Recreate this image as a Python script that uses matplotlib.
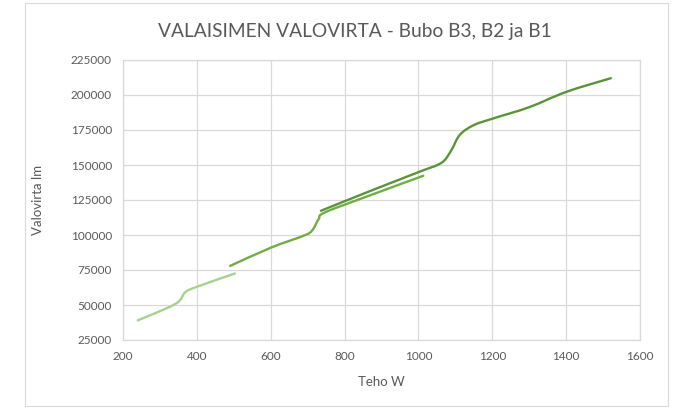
import numpy as np
import matplotlib
matplotlib.use("Agg")
import matplotlib.pyplot as plt
from matplotlib.path import Path
from matplotlib.patches import PathPatch, Rectangle

# ---- data ----
b1_w = [240, 342, 368, 400, 503]
b1_lm = [39000, 50800, 59000, 63000, 72500]

b2_w = [490, 600, 692, 713, 730, 748, 880, 1013]
b2_lm = [77900, 90900, 99800, 103500, 111500, 116300, 129400, 142300]

b3_w = [736, 870, 1004, 1062, 1088, 1112, 1150, 1203, 1300, 1401, 1521]
b3_lm = [117300, 131500, 145300, 151500, 160000, 171500, 178500, 183300, 191300, 202300, 212000]

x_ticks = [200, 400, 600, 800, 1000, 1200, 1400, 1600]
y_ticks = [25000, 50000, 75000, 100000, 125000, 150000, 175000, 200000, 225000]

title = "VALAISIMEN VALOVIRTA - Bubo B3, B2 ja B1"
x_label = "Teho W"
y_label = "Valovirta lm"

colors = {"B1": "#A9D18E", "B2": "#70AD47", "B3": "#5A9439"}

plt.rcParams['font.family'] = ['Lato', 'DejaVu Sans']

fig = plt.figure(figsize=(6.79, 4.08), dpi=100)
ax = fig.add_axes([123 / 679, 1 - 340 / 408, (640 - 123) / 679, (340 - 60) / 408])

# chart border
fig.patches.append(Rectangle((25 / 679, 1 - 406 / 408), (668 - 25) / 679, (406 - 3) / 408,
                             transform=fig.transFigure, fill=False,
                             edgecolor="#D9D9D9", linewidth=0.8))


def smooth_path(xs, ys, tension=1 / 6):
    """Excel-like smoothed line: cubic Bezier through the data points."""
    xs = np.asarray(xs, float)
    ys = np.asarray(ys, float)
    sx = 1400.0
    sy = 200000.0 * (280 / 517)
    px, py = xs / sx, ys / sy
    n = len(xs)
    verts = [(xs[0], ys[0])]
    codes = [Path.MOVETO]
    for i in range(n - 1):
        p0 = max(i - 1, 0)
        p3 = min(i + 2, n - 1)
        c1x = px[i] + (px[i + 1] - px[p0]) * tension
        c1y = py[i] + (py[i + 1] - py[p0]) * tension
        c2x = px[i + 1] - (px[p3] - px[i]) * tension
        c2y = py[i + 1] - (py[p3] - py[i]) * tension
        verts += [(c1x * sx, c1y * sy), (c2x * sx, c2y * sy), (xs[i + 1], ys[i + 1])]
        codes += [Path.CURVE4] * 3
    return Path(verts, codes)


for name, xs, ys in [("B1", b1_w, b1_lm), ("B2", b2_w, b2_lm), ("B3", b3_w, b3_lm)]:
    patch = PathPatch(smooth_path(xs, ys), fill=False, edgecolor=colors[name],
                      linewidth=1.7, capstyle="round", joinstyle="round", zorder=3)
    ax.add_patch(patch)

ax.set_xlim(200, 1600)
ax.set_ylim(25000, 225000)
ax.set_xticks(x_ticks)
ax.set_yticks(y_ticks)
ax.set_xticklabels([str(v) for v in x_ticks])
ax.set_yticklabels([str(v) for v in y_ticks])
ax.tick_params(length=0, labelsize=8.5, colors="#595959", pad=8)
ax.grid(True, color="#D9D9D9", linewidth=0.9)
ax.set_axisbelow(True)
for s in ax.spines.values():
    s.set_color("#D9D9D9")
    s.set_linewidth(0.9)

fig.text(355 / 679, 1 - 32 / 408, title, ha="center", va="center", fontsize=13.8, color="#595959")
fig.text(381 / 679, 1 - 382 / 408, x_label, ha="center", va="center", fontsize=9.5, color="#595959")
fig.text(38 / 679, 1 - 200 / 408, y_label, ha="center", va="center", rotation=90, fontsize=9.5, color="#595959")

fig.savefig("out.png", dpi=100)
